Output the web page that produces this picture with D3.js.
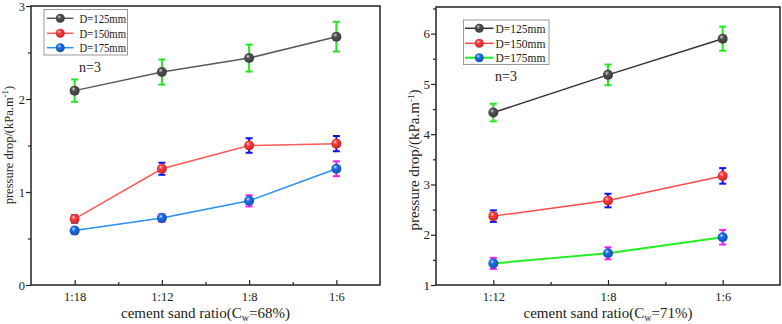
<!DOCTYPE html>
<html><head><meta charset="utf-8">
<script src="https://cdn.jsdelivr.net/npm/d3@7"></script>
<style>body{margin:0;background:#fff}svg{display:block}svg text{font-family:"Liberation Serif","DejaVu Serif","Times New Roman",serif !important;fill:#222}</style>
</head><body><svg id="c" width="782" height="324"></svg>
<script>
// ---- data ----
const catsLeft = ["1:18", "1:12", "1:8", "1:6"];
const left125 = [2.09, 2.29, 2.44, 2.67];
const left125Err = [0.12, 0.135, 0.145, 0.16];
const left150 = [0.71, 1.25, 1.50, 1.52];
const left150Err = [0.04, 0.065, 0.078, 0.082];
const left175 = [0.585, 0.72, 0.905, 1.25];
const left175Err = [0.03, 0.04, 0.06, 0.08];

const catsRight = ["1:12", "1:8", "1:6"];
const right125 = [4.43, 5.18, 5.90];
const right125Err = [0.175, 0.205, 0.24];
const right150 = [2.37, 2.68, 3.17];
const right150Err = [0.115, 0.135, 0.155];
const right175 = [1.43, 1.63, 1.95];
const right175Err = [0.11, 0.12, 0.145];

const seriesNames = ["D=125mm", "D=150mm", "D=175mm"];
const leftTicks = [0, 1, 2, 3];
const rightTicks = [1, 2, 3, 4, 5, 6];
const leftXLabel = ["cement sand ratio(C", "w", "=68%)"];
const rightXLabel = ["cement sand ratio(C", "w", "=71%)"];

const FONT = '"Liberation Serif","DejaVu Serif","Times New Roman",serif';
const svg = d3.select("#c");
const defs = svg.append("defs");
function grad(id, base, hi) {
  const g = defs.append("radialGradient").attr("id", id).attr("cx", "40%").attr("cy", "38%").attr("r", "60%").attr("fx", "38%").attr("fy", "32%");
  g.append("stop").attr("offset", "0%").attr("stop-color", hi);
  g.append("stop").attr("offset", "35%").attr("stop-color", base);
  g.append("stop").attr("offset", "100%").attr("stop-color", d3.color(base).darker(0.8));
}
grad("gGray", "#505050", "#d8d8d8");
grad("gRed", "#ff3b3b", "#ffd0d0");
grad("gBlue", "#1a6ee8", "#cfe4ff");

function panel(cfg) {
  const g = svg.append("g").attr("font-family", FONT);
  const x = d3.scaleLinear().domain([-0.5, cfg.cats.length - 0.5]).range(cfg.xr);
  const y = d3.scaleLinear().domain(cfg.yd).range(cfg.yr);
  // x axis (ticks inward)
  const xa = d3.axisBottom(x).tickValues(d3.range(cfg.cats.length)).tickFormat(i => cfg.cats[i]).tickSizeInner(-5).tickSizeOuter(0);
  const gx = g.append("g").attr("transform", `translate(0,${cfg.yr[0]})`).call(xa);
  gx.attr("font-family", FONT);
  gx.selectAll("text").attr("dy", null).attr("y", 16).attr("font-size", 12.5).attr("fill", "#222");
  g.append("g").attr("transform", `translate(0,${cfg.yr[0]})`)
    .call(d3.axisBottom(x).tickValues(d3.range(cfg.cats.length - 1).map(i => i + 0.5)).tickFormat("").tickSizeInner(-3).tickSizeOuter(0));
  // y axis (ticks outward)
  const ya = d3.axisLeft(y).tickValues(cfg.yt).tickFormat(d3.format("d")).tickSizeInner(5).tickSizeOuter(0);
  const gy = g.append("g").attr("transform", `translate(${cfg.xr[0]},0)`).call(ya);
  gy.attr("font-family", FONT);
  gy.selectAll("text").attr("x", cfg.ytx).attr("font-size", cfg.ytFont).attr("fill", "#222");
  const minors = cfg.yt.map(v => v + 0.5).filter(v => v <= cfg.yd[1]);
  g.append("g").attr("transform", `translate(${cfg.xr[0]},0)`)
    .call(d3.axisLeft(y).tickValues(minors).tickFormat("").tickSizeInner(3).tickSizeOuter(0));
  g.selectAll(".domain").remove();
  g.selectAll(".tick line").attr("stroke", "#222").attr("stroke-width", 1.2);
  // frame
  g.append("rect").attr("x", cfg.xr[0]).attr("y", cfg.yr[1]).attr("width", cfg.xr[1] - cfg.xr[0]).attr("height", cfg.yr[0] - cfg.yr[1])
    .attr("fill", "none").attr("stroke", "#222").attr("stroke-width", 1.5);
  // series
  cfg.series.forEach(s => {
    const pts = s.vals.map((v, i) => [x(i), y(v)]);
    g.append("path").attr("d", d3.line()(pts)).attr("fill", "none").attr("stroke", s.line).attr("stroke-width", s.lw);
    s.vals.forEach((v, i) => {
      const cx = x(i), t = y(v + s.err[i]), b = y(v - s.err[i]);
      const eg = g.append("g").attr("stroke", s.ebar).attr("stroke-width", 2);
      eg.append("line").attr("x1", cx).attr("x2", cx).attr("y1", t).attr("y2", b);
      eg.append("line").attr("x1", cx - 3.5).attr("x2", cx + 3.5).attr("y1", t).attr("y2", t);
      eg.append("line").attr("x1", cx - 3.5).attr("x2", cx + 3.5).attr("y1", b).attr("y2", b);
    });
    s.vals.forEach((v, i) => {
      g.append("circle").attr("cx", x(i)).attr("cy", y(v)).attr("r", 5).attr("fill", `url(#${s.grad})`);
    });
  });
  // legend
  const L = cfg.legend;
  g.append("rect").attr("x", L.x).attr("y", L.y).attr("width", L.w).attr("height", L.h).attr("fill", "#fff").attr("stroke", "#999").attr("stroke-width", 1);
  cfg.series.forEach((s, k) => {
    const yy = L.rows[k];
    g.append("line").attr("x1", L.lx1).attr("x2", L.lx2).attr("y1", yy).attr("y2", yy).attr("stroke", s.line).attr("stroke-width", s.lw);
    g.append("circle").attr("cx", (L.lx1 + L.lx2) / 2).attr("cy", yy).attr("r", 4.5).attr("fill", `url(#${s.grad})`);
    const t = g.append("text").attr("x", L.tx).attr("y", yy + 4.5).attr("font-size", L.font).text(seriesNames[k]);
    if (L.tl) t.attr("textLength", L.tl).attr("lengthAdjust", "spacingAndGlyphs");
  });
  g.append("text").attr("x", cfg.n[0]).attr("y", cfg.n[1]).attr("font-size", 14).text("n=3");
  // x label
  const xl = g.append("text").attr("x", (cfg.xr[0] + cfg.xr[1]) / 2).attr("y", 318).attr("text-anchor", "middle").attr("font-size", 15);
  xl.append("tspan").text(cfg.xlabel[0]);
  xl.append("tspan").attr("dy", 3).attr("font-size", 10).text(cfg.xlabel[1]);
  xl.append("tspan").attr("dy", -3).text(cfg.xlabel[2]);
  // y label
  const yl = g.append("text").attr("transform", `translate(${cfg.ylab[0]},${cfg.ylab[1]}) rotate(-90)`).attr("text-anchor", "middle").attr("font-size", cfg.ylab[2]);
  yl.append("tspan").text("pressure drop/(kPa.m");
  yl.append("tspan").attr("dy", -5).attr("font-size", 9).text("-1");
  yl.append("tspan").attr("dy", 5).text(")");
}

panel({
  cats: catsLeft, xr: [31, 380], yr: [285, 6], yd: [0, 3], yt: leftTicks, ytFont: 12.5, ytx: -6,
  series: [
    {vals: left125, err: left125Err, line: "#5a5a5a", lw: 1.5, ebar: "#22e622", grad: "gGray"},
    {vals: left150, err: left150Err, line: "#ff5a5a", lw: 1.5, ebar: "#1010ee", grad: "gRed"},
    {vals: left175, err: left175Err, line: "#2a8ef0", lw: 1.5, ebar: "#ee22ee", grad: "gBlue"}
  ],
  legend: {x: 44, y: 9.5, w: 83.5, h: 45.5, rows: [18.3, 33.3, 47.7], lx1: 47, lx2: 73.5, tx: 79.5, font: 13, tl: 46.5},
  n: [79, 72], xlabel: leftXLabel, ylab: [13, 145, 12.5]
});
panel({
  cats: catsRight, xr: [436, 780], yr: [285, 7], yd: [1, 6.53], yt: rightTicks, ytFont: 13, ytx: -6,
  series: [
    {vals: right125, err: right125Err, line: "#333", lw: 1.5, ebar: "#22e622", grad: "gGray"},
    {vals: right150, err: right150Err, line: "#ff4a4a", lw: 1.5, ebar: "#1010ee", grad: "gRed"},
    {vals: right175, err: right175Err, line: "#22ee22", lw: 2, ebar: "#ee22ee", grad: "gBlue"}
  ],
  legend: {x: 463.5, y: 20, w: 85.5, h: 44.5, rows: [28.3, 43.3, 57.7], lx1: 465, lx2: 493.5, tx: 495.5, font: 12.5, tl: 50},
  n: [495, 80.5], xlabel: rightXLabel, ylab: [419, 160, 15]
});
</script></body></html>
